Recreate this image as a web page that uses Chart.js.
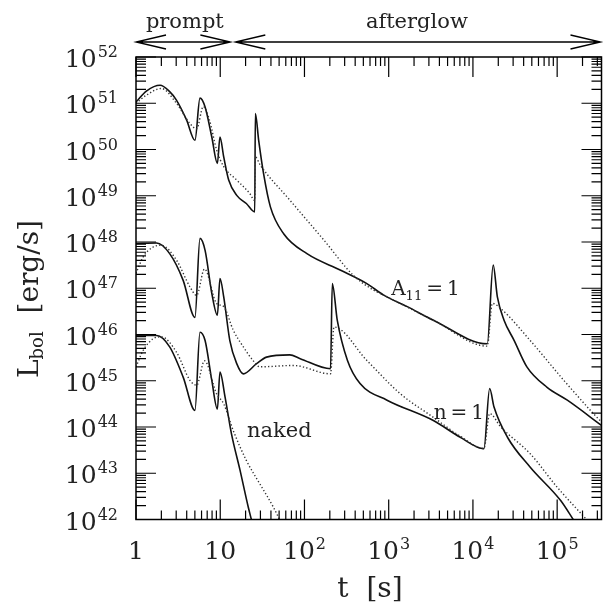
<!DOCTYPE html>
<html>
<head>
<meta charset="utf-8">
<script src="https://cdn.jsdelivr.net/npm/chart.js@4.4.1/dist/chart.umd.min.js"></script>
<style>
  html, body { margin: 0; padding: 0; background: #fff; }
</style>
</head>
<body>
<canvas id="chart" width="605" height="606"></canvas>
<script>
// A11=1 curve (top)
let topSolidT = [1, 1.34, 1.93, 2.51, 3.02, 3.98, 5.01, 5.75, 6.61, 7.94, 9.25, 9.93, 11.0, 12.6, 15.7, 20.4, 25.7, 26.1, 28.6, 32.7, 39.4, 56.6, 107, 269, 550, 871, 1660, 3390, 14800, 17400, 19500, 23400, 30900, 43700, 75900, 132000, 339000];
let topSolidL = [1.07e51, 1.86e51, 2.45e51, 1.78e51, 1.17e51, 4.37e50, 1.58e50, 1.29e51, 8.3e50, 1.86e50, 5.0e49, 1.86e50, 6.9e49, 2.19e49, 1.02e49, 6.8e48, 4.47e48, 6.0e50, 1.58e50, 3.0e49, 5.75e48, 1.51e48, 5.6e47, 2.45e47, 1.26e47, 7.1e46, 4.0e46, 2.04e46, 6.3e45, 3.16e47, 6.5e46, 2.04e46, 7.4e45, 2.0e45, 7.2e44, 3.8e44, 1.07e44];
let topDotT = [1, 1.34, 2.0, 3.02, 4.37, 5.25, 6.3, 7.4, 9.06, 11.0, 15.7, 22.4, 25.7, 26.1, 29.9, 67.6, 170, 380, 661, 871, 3390, 14800, 17000, 21400, 47900, 120000, 269000, 339000];
let topDotL = [1.0e51, 1.51e51, 2.09e51, 1.0e51, 3.63e50, 2.8e50, 8.5e50, 4.5e50, 9.8e49, 4.27e49, 2.19e49, 1.12e49, 7.9e48, 6.9e49, 4.57e49, 7.9e48, 1.1e48, 1.9e47, 9.1e46, 7.1e46, 2.04e46, 5.6e45, 4.7e46, 3.63e46, 7.4e45, 1.02e45, 1.95e44, 1.26e44];

// n=1 curve (middle)
let midSolidT = [1, 1.76, 2.51, 3.63, 5.01, 5.75, 6.61, 7.94, 9.25, 9.93, 11.0, 13.0, 15.7, 18.8, 27.0, 35.5, 67, 89, 204, 214, 245, 324, 457, 955, 3390, 7080, 13500, 15800, 17800, 25700, 47900, 110000, 158000];
let midSolidL = [9.3e47, 9.5e47, 5.6e47, 1.48e47, 2.34e46, 1.2e48, 6.6e47, 7.8e46, 2.63e46, 1.62e47, 6.5e46, 7.4e45, 2.34e45, 1.41e45, 2.34e45, 3.24e45, 3.63e45, 3.0e45, 1.82e45, 1.26e47, 2.04e46, 2.75e45, 8.7e44, 3.8e44, 1.38e44, 6.0e43, 3.4e43, 6.8e44, 2.7e44, 6.0e43, 1.35e43, 2.57e42, 9.5e41];
let midDotT = [1, 1.22, 1.6, 2.0, 3.02, 4.37, 5.25, 6.5, 9.06, 11.0, 14.3, 18.8, 24.5, 29.5, 74, 204, 224, 550, 1380, 3390, 7080, 13500, 15800, 21400, 47900, 100000, 229000];
let midDotL = [2.09e47, 4.8e47, 7.8e47, 8.5e47, 4.07e47, 1.07e47, 7.0e46, 2.6e47, 4.7e46, 4.0e46, 1.23e46, 5.4e45, 2.75e45, 2.0e45, 2.14e45, 1.41e45, 1.45e46, 2.75e45, 5.2e44, 1.62e44, 6.3e43, 3.4e43, 1.95e44, 1.0e44, 2.63e43, 5.0e42, 9.5e41];

// naked curve (bottom)
let nakedSolidT = [1, 1.76, 2.51, 3.63, 5.01, 5.75, 6.61, 7.94, 9.25, 9.93, 11.4, 13.6, 17.2, 21.5, 23.6];
let nakedSolidL = [9.5e45, 9.5e45, 5.4e45, 1.2e45, 2.29e44, 1.12e46, 7.4e45, 1.02e45, 2.45e44, 1.55e45, 4.47e44, 7.1e43, 1.15e43, 1.86e42, 9.5e41];
let nakedDotT = [1, 1.22, 1.6, 2.0, 3.02, 4.37, 5.25, 6.5, 9.06, 11.0, 14.3, 20.4, 29.5, 42.7, 51.3];
let nakedDotL = [2.0e45, 4.57e45, 8.1e45, 8.9e45, 4.17e45, 1.02e45, 8.0e44, 2.7e45, 5.2e44, 3.16e44, 8.3e43, 1.9e43, 5.9e42, 1.86e42, 9.5e41];

// axes
let xTickExps = [0, 1, 2, 3, 4, 5];
let yTickExps = [42, 43, 44, 45, 46, 47, 48, 49, 50, 51, 52];
let xMin = 1, xMax = 3.36e5;
let yMin = 1e42, yMax = 1e52;

let serif = '"DejaVu Serif", serif';

function toPoints(ts, ls) {
  return ts.map((t, i) => ({ x: t, y: ls[i] }));
}

function solid(ts, ls) {
  return { data: toPoints(ts, ls), borderColor: "#111", borderWidth: 1.6 };
}
function dotted(ts, ls) {
  return { data: toPoints(ts, ls), borderColor: "#333", borderWidth: 1.4, borderDash: [1.3, 2.2] };
}

// "10" with a raised exponent
function drawPow(ctx, exp, x, base, align) {
  ctx.font = "25px " + serif;
  let wb = ctx.measureText("10").width;
  ctx.font = "16px " + serif;
  let ws = ctx.measureText(String(exp)).width;
  let total = wb + 1 + ws;
  let x0 = align == "right" ? x - total : x - total / 2;
  ctx.textAlign = "left";
  ctx.font = "25px " + serif;
  ctx.fillText("10", x0, base);
  ctx.font = "16px " + serif;
  ctx.fillText(String(exp), x0 + wb + 1, base - 10);
}

// draws pieces left to right, each [text, size, dy]
function drawPieces(ctx, pieces, x, y) {
  let cx = x;
  for (let p of pieces) {
    ctx.font = p[1] + "px " + serif;
    ctx.fillText(p[0], cx, y + p[2]);
    cx += ctx.measureText(p[0]).width;
  }
  return cx - x;
}

function piecesWidth(ctx, pieces) {
  let w = 0;
  for (let p of pieces) {
    ctx.font = p[1] + "px " + serif;
    w += ctx.measureText(p[0]).width;
  }
  return w;
}

function arrow(ctx, x1, x2, y) {
  ctx.beginPath();
  ctx.moveTo(x1, y);
  ctx.lineTo(x2, y);
  ctx.moveTo(x1 + 30, y - 7);
  ctx.lineTo(x1, y);
  ctx.lineTo(x1 + 30, y + 7);
  ctx.moveTo(x2 - 30, y - 7);
  ctx.lineTo(x2, y);
  ctx.lineTo(x2 - 30, y + 7);
  ctx.stroke();
}

let axisDecor = {
  id: "axisDecor",
  afterDraw(chart) {
    let ctx = chart.ctx;
    let xs = chart.scales.x;
    let ys = chart.scales.y;
    let { left, right, top, bottom } = chart.chartArea;

    ctx.save();
    ctx.strokeStyle = "#000";
    ctx.fillStyle = "#222";

    // tick marks on all four sides
    ctx.lineWidth = 1.2;
    ctx.beginPath();
    for (let e = 0; e <= 5; e++) {
      for (let m = 1; m <= 9; m++) {
        let v = m * Math.pow(10, e);
        if (v > xMax) break;
        let px = xs.getPixelForValue(v);
        let len = m == 1 ? 20 : 9;
        ctx.moveTo(px, bottom);
        ctx.lineTo(px, bottom - len);
        ctx.moveTo(px, top);
        ctx.lineTo(px, top + len);
      }
    }
    for (let e = 42; e <= 52; e++) {
      for (let m = 1; m <= 9; m++) {
        let v = m * Math.pow(10, e);
        if (v > yMax * 1.0001) break;
        let py = ys.getPixelForValue(v);
        let len = m == 1 ? 20 : 10;
        ctx.moveTo(left, py);
        ctx.lineTo(left + len, py);
        ctx.moveTo(right, py);
        ctx.lineTo(right - len, py);
      }
    }
    ctx.stroke();

    // frame
    ctx.lineWidth = 1.5;
    ctx.strokeRect(left, top, right - left, bottom - top);

    // tick labels
    ctx.textBaseline = "alphabetic";
    for (let e of yTickExps) {
      let py = ys.getPixelForValue(Math.pow(10, e));
      drawPow(ctx, e, left - 18, py + 10, "right");
    }
    for (let e of xTickExps) {
      let px = xs.getPixelForValue(Math.pow(10, e));
      if (e < 2) {
        ctx.font = "25px " + serif;
        ctx.textAlign = "center";
        ctx.fillText(e == 0 ? "1" : "10", px, bottom + 39);
      } else {
        drawPow(ctx, e, px, bottom + 39, "center");
      }
    }

    // axis titles
    ctx.textAlign = "left";
    let xt = [["t  [s]", 28, 0]];
    drawPieces(ctx, xt, 370 - piecesWidth(ctx, xt) / 2, 597);

    let yt = [["L", 28, 0], ["bol", 18, 5], ["  [erg/s]", 28, 0]];
    ctx.save();
    ctx.translate(38, 299);
    ctx.rotate(-Math.PI / 2);
    drawPieces(ctx, yt, -piecesWidth(ctx, yt) / 2, 0);
    ctx.restore();

    // curve labels
    drawPieces(ctx, [["A", 20, 0], ["11", 13, 5], ["\u2009=\u20091", 20, 0]],
      xs.getPixelForValue(1070), ys.getPixelForValue(7.1e46));
    drawPieces(ctx, [["n\u2009=\u20091", 20, 0]],
      xs.getPixelForValue(3420), ys.getPixelForValue(1.5e44));
    drawPieces(ctx, [["naked", 21, 0]],
      xs.getPixelForValue(20.8), ys.getPixelForValue(6.0e43));

    // prompt / afterglow
    ctx.lineWidth = 1.3;
    arrow(ctx, xs.getPixelForValue(1), xs.getPixelForValue(13.2), 42);
    arrow(ctx, xs.getPixelForValue(15.1), xs.getPixelForValue(xMax) - 1, 42);
    ctx.font = "21px " + serif;
    ctx.textAlign = "center";
    ctx.fillText("prompt", xs.getPixelForValue(3.8), 28);
    ctx.fillText("afterglow", xs.getPixelForValue(2160), 28);

    ctx.restore();
  },
};

let ctx = document.querySelector("#chart").getContext("2d");
let chart = new Chart(ctx, {
  type: "line",
  data: {
    datasets: [
      dotted(topDotT, topDotL),
      solid(topSolidT, topSolidL),
      dotted(midDotT, midDotL),
      solid(midSolidT, midSolidL),
      dotted(nakedDotT, nakedDotL),
      solid(nakedSolidT, nakedSolidL),
    ],
  },
  options: {
    responsive: false,
    animation: false,
    layout: { padding: { left: 136, right: 3.5, top: 57, bottom: 86.5 } },
    elements: {
      point: { radius: 0 },
      line: { cubicInterpolationMode: "monotone" },
    },
    plugins: {
      legend: { display: false },
      tooltip: { enabled: false },
    },
    scales: {
      x: { type: "logarithmic", min: xMin, max: xMax, display: false },
      y: { type: "logarithmic", min: yMin, max: yMax, display: false },
    },
  },
  plugins: [axisDecor],
});
</script>
</body>
</html>
